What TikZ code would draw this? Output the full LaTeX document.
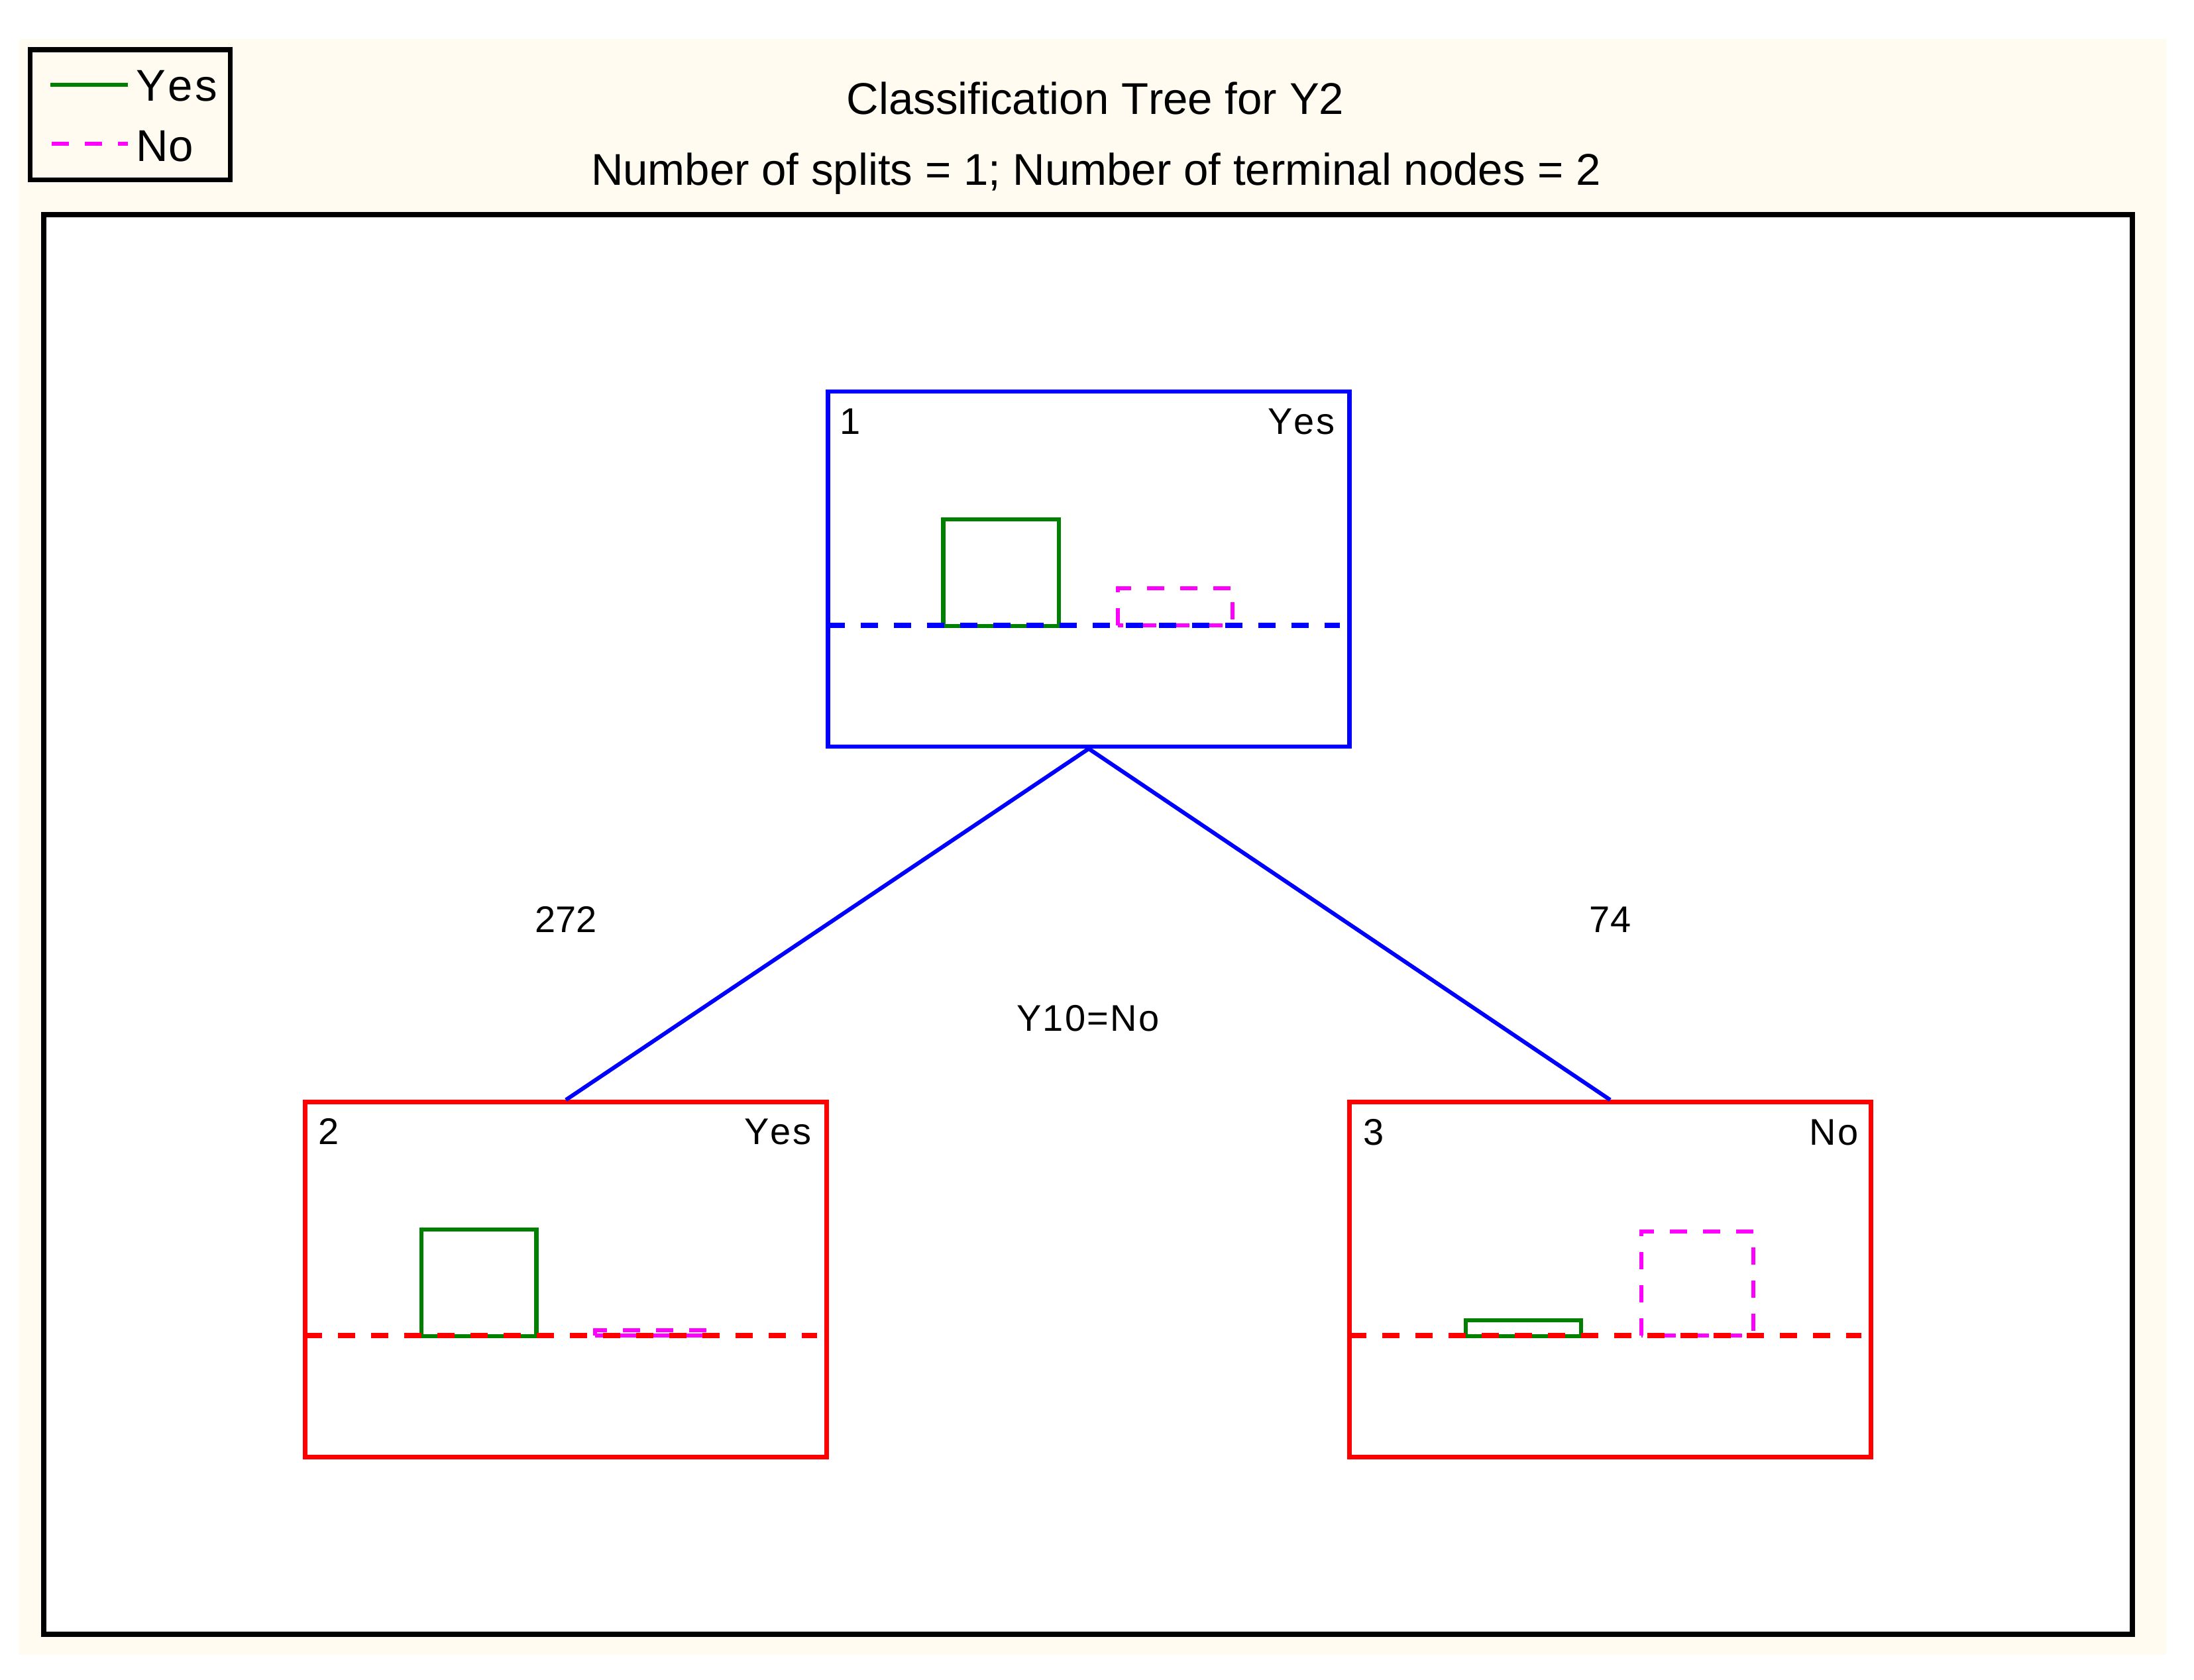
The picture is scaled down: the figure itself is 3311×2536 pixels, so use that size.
\documentclass[tikz,border=0pt]{standalone}
\usepackage{fontspec}
\setmainfont{Liberation Sans}[Kerning=Off]
\definecolor{cream}{RGB}{255,251,240}
\definecolor{mygreen}{RGB}{0,128,0}
\definecolor{mymag}{RGB}{255,0,255}
\definecolor{myblue}{RGB}{0,0,255}
\definecolor{myred}{RGB}{255,0,0}
\begin{document}
\begin{tikzpicture}[x=0.25pt,y=-0.25pt,
  treebox/.style={draw,line width=1.6pt,minimum width=196.75pt,minimum height=134pt,inner sep=0pt},
  lbl/.style={inner sep=0pt,font=\fontsize{14}{16}\selectfont},
  spacedlbl/.style={inner sep=0pt,font=\fontsize{14}{16}\selectfont\addfontfeature{LetterSpace=4}},
  bigtxt/.style={inner sep=0pt,font=\fontsize{16.8}{20}\selectfont},
  legtxt/.style={inner sep=0pt,font=\fontsize{16.8}{20}\selectfont\addfontfeature{LetterSpace=5}},
  greenbar/.style={line width=1.6pt,draw=mygreen},
  magbar/.style={line width=1.6pt,draw=mymag,dash pattern=on 6.5pt off 6pt},
  splitline/.style={line width=1.8pt,dash pattern=on 6.5pt off 6pt,dash phase=0.75pt},
  edgeline/.style={draw=myblue,line width=1.5pt}]
\useasboundingbox (0,0) rectangle (3311,2536);
\fill[cream] (29,59) rectangle (3269,2498);
\draw[line width=1.8pt,fill=white] (66,324) rectangle (3218,2467);
% legend
\draw[line width=1.8pt] (45.5,75) rectangle (347.5,271.5);
\draw[mygreen,line width=1.65pt] (76,128) -- (193,128);
\draw[mymag,line width=1.65pt,dash pattern=on 6.5pt off 6pt,dash phase=-0.5pt] (76,217) -- (193,217);
\node[legtxt,anchor=base west] (legyes) at (205,153) {Yes};
\node[bigtxt,anchor=base west] (legno) at (205,244) {No};
% titles
\node[bigtxt,anchor=base] (title) at (1653,173) {Classification Tree for Y2};
\node[bigtxt,anchor=base] (subtitle) at (1654,280) {Number of splits = 1; Number of terminal nodes = 2};
% tree nodes
\node[treebox,draw=myblue] (n1) at (1643,859) {};
\node[treebox,draw=myred] (n2) at (854,1931.5) {};
\node[treebox,draw=myred] (n3) at (2430,1931.5) {};
% edges
\draw[edgeline] (n1.south) -- (n2.north);
\draw[edgeline] (n1.south) -- (n3.north);
% node 1 contents
\draw[greenbar] (1423.5,945) rectangle (1598,784);
\draw[magbar] (1687,944) rectangle (1860,888);
\draw[splitline,myblue] (1252,944) -- (2022,944);
\node[lbl,anchor=base west] (l1a) at (1267,655) {1};
\node[spacedlbl,anchor=base east] (l1b) at (2015,655) {Yes};
% node 2 contents
\draw[greenbar] (636,2017) rectangle (809.6,1856);
\draw[magbar] (898,2016) rectangle (1071,2008);
\draw[splitline,myred] (463,2016) -- (1233,2016);
\node[lbl,anchor=base west] (l2a) at (480,1727) {2};
\node[spacedlbl,anchor=base east] (l2b) at (1225,1727) {Yes};
% node 3 contents
\draw[greenbar] (2212,2017) rectangle (2386,1993);
\draw[magbar] (2477,2016) rectangle (2646,1859);
\draw[splitline,myred] (2039,2016) -- (2809,2016);
\node[lbl,anchor=base west] (l3a) at (2057,1728) {3};
\node[spacedlbl,anchor=base east] (l3b) at (2805,1728) {No};
% split labels
\node[lbl,anchor=base] (cnt2) at (854,1407) {272};
\node[lbl,anchor=base] (cnt3) at (2430,1407) {74};
\node[spacedlbl,anchor=base] (split) at (1642,1556) {Y10=No};
\end{tikzpicture}
\end{document}
